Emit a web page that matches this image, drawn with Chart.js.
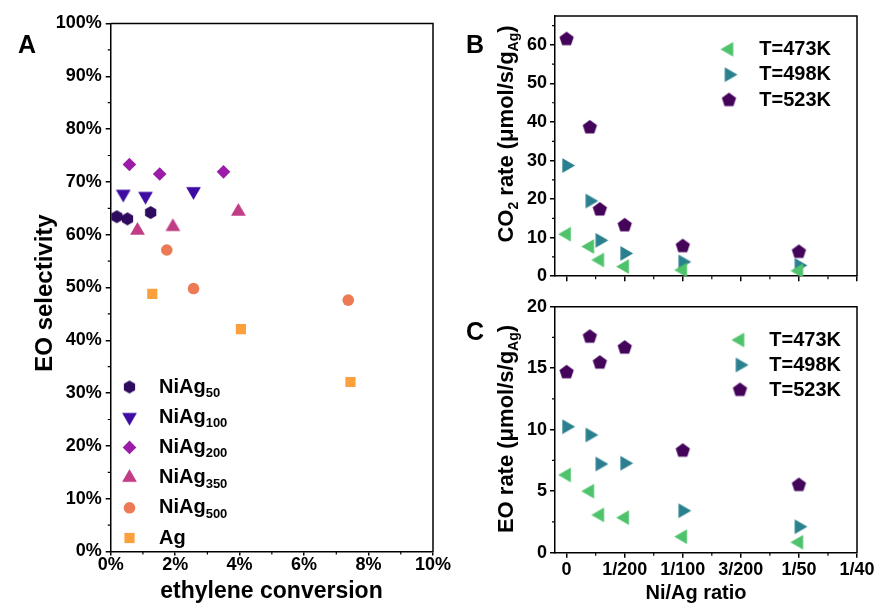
<!DOCTYPE html>
<html>
<head>
<meta charset="utf-8">
<script src="https://cdn.jsdelivr.net/npm/chart.js@4.4.0/dist/chart.umd.min.js"></script>
<style>
  html, body { margin: 0; padding: 0; background: #fff; }
  body { width: 878px; height: 607px; position: relative; overflow: hidden; }
  .panel { position: absolute; }
</style>
</head>
<body>
<div class="panel" style="left:0;top:0;width:460px;height:607px"><canvas id="chartA"></canvas></div>
<div class="panel" style="left:460px;top:0;width:418px;height:290px"><canvas id="chartB"></canvas></div>
<div class="panel" style="left:460px;top:290px;width:418px;height:317px"><canvas id="chartC"></canvas></div>
<script>
// ---- panel A: selectivity vs conversion (%)
const catalystNames = ['50', '100', '200', '350', '500', ''];
const convNiAg50 = [0.19, 0.52, 1.24];
const selNiAg50 = [63.4, 63.0, 64.2];
const convNiAg100 = [0.39, 1.08, 2.57];
const selNiAg100 = [67.7, 67.3, 68.2];
const convNiAg200 = [0.58, 1.52, 3.50];
const selNiAg200 = [73.3, 71.5, 71.9];
const convNiAg350 = [0.83, 1.93, 3.96];
const selNiAg350 = [60.8, 61.5, 64.4];
const convNiAg500 = [1.74, 2.57, 7.37];
const selNiAg500 = [57.1, 49.8, 47.6];
const convAg = [1.29, 4.04, 7.44];
const selAg = [48.8, 42.1, 32.1];
const convTicks = [0, 2, 4, 6, 8, 10];
const selTicks = [0, 10, 20, 30, 40, 50, 60, 70, 80, 90, 100];

// ---- panels B and C: rates vs Ni/Ag ratio
const ratioValues = [0, 0.002, 0.00286, 0.005, 0.01, 0.02];
const co2Rate473 = [10.9, 7.7, 4.2, 2.5, 1.6, 1.4];
const co2Rate498 = [28.7, 19.5, 9.3, 5.9, 3.7, 2.8];
const co2Rate523 = [61.5, 38.6, 17.3, 13.2, 7.8, 6.3];
const eoRate473 = [6.32, 5.0, 3.07, 2.85, 1.30, 0.85];
const eoRate498 = [10.24, 9.57, 7.21, 7.27, 3.41, 2.11];
const eoRate523 = [14.67, 17.56, 15.45, 16.67, 8.29, 5.5];
const tempLabels = ['T=473K', 'T=498K', 'T=523K'];
const ratioTicks = [0, 0.005, 0.01, 0.015, 0.02, 0.025];
const ratioTickLabels = ['0', '1/200', '1/100', '3/200', '1/50', '1/40'];
const co2Ticks = [0, 10, 20, 30, 40, 50, 60];
const eoTicks = [0, 5, 10, 15, 20];

const FONT = "'Liberation Sans', Arial, sans-serif";
const font = (size) => 'bold ' + size + 'px ' + FONT;

// polygon markers (triangle / pentagon / hexagon) drawn into small canvases
function polyMarker(sides, r, color) {
  const c = document.createElement('canvas');
  const s = Math.ceil(2 * r + 2);
  c.width = c.height = s;
  const g = c.getContext('2d');
  g.fillStyle = color;
  g.beginPath();
  for (let i = 0; i < sides; i++) {
    const a = -Math.PI / 2 + i * 2 * Math.PI / sides;
    const px = s / 2 + r * Math.cos(a), py = s / 2 + r * Math.sin(a);
    if (i) g.lineTo(px, py); else g.moveTo(px, py);
  }
  g.closePath();
  g.fill();
  return c;
}

const stylesA = [
  { color: '#2e0b5e', pointStyle: polyMarker(6, 6.5, '#2e0b5e'), radius: 6, rotation: 0 },
  { color: '#3f0ca3', pointStyle: polyMarker(3, 8.5, '#3f0ca3'), radius: 7, rotation: 180 },
  { color: '#9b1ca8', pointStyle: 'rectRot', radius: 6.8, rotation: 0 },
  { color: '#c03d85', pointStyle: polyMarker(3, 8.5, '#c03d85'), radius: 7, rotation: 0 },
  { color: '#ec7a55', pointStyle: 'circle', radius: 5.8, rotation: 0 },
  { color: '#fba03c', pointStyle: 'rect', radius: 7.2, rotation: 0 }
];
const stylesT = [
  { color: '#4ec36b', pointStyle: polyMarker(3, 8.5, '#4ec36b'), radius: 7, rotation: -90 },
  { color: '#2a808e', pointStyle: polyMarker(3, 8.5, '#2a808e'), radius: 7, rotation: 90 },
  { color: '#44045a', pointStyle: polyMarker(5, 7.5, '#44045a'), radius: 7, rotation: 0 }
];

function makeSet(label, xs, ys, st) {
  return {
    label: label,
    data: xs.map((x, i) => ({ x: x, y: ys[i] })),
    pointStyle: st.pointStyle,
    pointRadius: st.radius,
    pointHoverRadius: st.radius,
    rotation: st.rotation,
    backgroundColor: st.color,
    borderColor: st.color,
    pointBorderWidth: 0,
    showLine: false
  };
}

// rich text with subscripts: parts = [[text, isSub], ...]
function drawRich(ctx, parts, x, y, size, align) {
  const sub = Math.round(size * 0.65);
  let w = 0;
  parts.forEach(p => { ctx.font = font(p[1] ? sub : size); w += ctx.measureText(p[0]).width; });
  let cx = align === 'center' ? x - w / 2 : x;
  ctx.textAlign = 'left';
  ctx.textBaseline = 'middle';
  ctx.fillStyle = '#000';
  parts.forEach(p => {
    ctx.font = font(p[1] ? sub : size);
    ctx.fillText(p[0], cx, p[1] ? y + size * 0.32 : y);
    cx += ctx.measureText(p[0]).width;
  });
}

// frame, minor ticks, titles, legend
function decorPlugin(cfg) {
  return {
    id: 'decor',
    afterDraw(chart) {
      const ctx = chart.ctx, a = chart.chartArea;
      ctx.save();
      ctx.strokeStyle = '#000';
      ctx.lineWidth = 1.5;
      ctx.beginPath();
      ctx.moveTo(a.left, a.top); ctx.lineTo(a.right, a.top); ctx.lineTo(a.right, a.bottom);
      ctx.stroke();
      ctx.lineWidth = 1.2;
      ['x', 'y'].forEach(id => {
        const s = chart.scales[id];
        const t = s.ticks.map(k => k.value);
        const step = (t[1] - t[0]) / 2;
        ctx.beginPath();
        for (let v = t[0] - step; v <= s.max + 1e-9; v += 2 * step) {
          if (v < s.min) continue;
          const p = s.getPixelForValue(v);
          if (id === 'x') { ctx.moveTo(p, a.bottom); ctx.lineTo(p, a.bottom + 3); }
          else { ctx.moveTo(a.left, p); ctx.lineTo(a.left - 3, p); }
        }
        ctx.stroke();
      });
      // panel letter
      ctx.fillStyle = '#000';
      ctx.font = font(25);
      ctx.textAlign = 'left';
      ctx.textBaseline = 'middle';
      ctx.fillText(cfg.letter[0], cfg.letter[1], cfg.letter[2]);
      // axis titles
      if (cfg.xTitle) drawRich(ctx, cfg.xTitle.parts, cfg.xTitle.x, cfg.xTitle.y, cfg.xTitle.size, 'center');
      if (cfg.yTitle) {
        ctx.save();
        ctx.translate(cfg.yTitle.x, cfg.yTitle.y);
        ctx.rotate(-Math.PI / 2);
        drawRich(ctx, cfg.yTitle.parts, 0, 0, cfg.yTitle.size, 'center');
        ctx.restore();
      }
      // legend
      const lg = cfg.legend;
      chart.data.datasets.forEach((ds, i) => {
        const y = lg.y + i * lg.dy;
        ctx.fillStyle = ds.backgroundColor;
        Chart.helpers.drawPoint(ctx, {
          pointStyle: ds.pointStyle, rotation: ds.rotation, radius: ds.pointRadius, borderWidth: 0
        }, lg.mx, y);
        drawRich(ctx, lg.parts[i], lg.tx, y, lg.size, 'left');
      });
      ctx.restore();
    }
  };
}

function linAxis(min, max, ticks, labels, fit, pad, tickLen) {
  return {
    type: 'linear',
    min: min,
    max: max,
    afterBuildTicks: s => { s.ticks = ticks.map(v => ({ value: v })); },
    afterFit: fit,
    ticks: {
      autoSkip: false,
      maxRotation: 0,
      padding: pad,
      color: '#000',
      font: { family: FONT, size: 18, weight: 'bold' },
      callback: (v, i) => labels[i]
    },
    grid: { display: true, drawOnChartArea: false, drawTicks: true, tickLength: tickLen, color: '#000', lineWidth: 1.5 },
    border: { display: true, color: '#000', width: 1.5 }
  };
}

function baseOptions(padding, xAxis, yAxis) {
  return {
    responsive: true,
    maintainAspectRatio: false,
    animation: false,
    devicePixelRatio: 1,
    layout: { padding: padding },
    plugins: { legend: { display: false }, tooltip: { enabled: false } },
    scales: { x: xAxis, y: yAxis }
  };
}

// Panel A
const dataA = [
  [convNiAg50, selNiAg50], [convNiAg100, selNiAg100], [convNiAg200, selNiAg200],
  [convNiAg350, selNiAg350], [convNiAg500, selNiAg500], [convAg, selAg]
];
new Chart(document.getElementById('chartA'), {
  type: 'scatter',
  data: { datasets: dataA.map((d, i) => makeSet('NiAg' + catalystNames[i], d[0], d[1], stylesA[i])) },
  options: baseOptions({ left: 0, top: 23.5, right: 27, bottom: 0 },
    linAxis(0, 10, convTicks, convTicks.map(v => v + '%'), s => { s.height = 55.5; }, -1, 4),
    linAxis(0, 100, selTicks, selTicks.map(v => v + '%'), s => { s.width = 110.7; }, 4, 5)),
  plugins: [decorPlugin({
    letter: ['A', 18, 46],
    xTitle: { parts: [['ethylene conversion', 0]], x: 271.5, y: 592, size: 23 },
    yTitle: { parts: [['EO selectivity', 0]], x: 45, y: 293, size: 24 },
    legend: {
      mx: 129.5, tx: 159, y: 387, dy: 30.2, size: 20,
      parts: catalystNames.map(n => n ? [['NiAg', 0], [n, 1]] : [['Ag', 0]])
    }
  })]
});

// Panel B
const co2Sets = [co2Rate473, co2Rate498, co2Rate523];
new Chart(document.getElementById('chartB'), {
  type: 'scatter',
  data: { datasets: co2Sets.map((d, i) => makeSet(tempLabels[i], ratioValues, d, stylesT[i])) },
  options: baseOptions({ left: 0, top: 16, right: 21, bottom: 0 },
    linAxis(-0.001, 0.025, ratioTicks, ratioTicks.map(() => ''), s => { s.height = 13; }, 0, 5),
    linAxis(0, 67.5, co2Ticks, co2Ticks.map(String), s => { s.width = 95; }, 3, 5)),
  plugins: [decorPlugin({
    letter: ['B', 6, 46],
    yTitle: { parts: [['CO', 0], ['2', 1], [' rate (μmol/s/g', 0], ['Ag', 1], [')', 0]], x: 47, y: 134, size: 22 },
    legend: { mx: 269, tx: 299.3, y: 49.3, dy: 25.4, size: 20, parts: tempLabels.map(t => [[t, 0]]) }
  })]
});

// Panel C
const eoSets = [eoRate473, eoRate498, eoRate523];
new Chart(document.getElementById('chartC'), {
  type: 'scatter',
  data: { datasets: eoSets.map((d, i) => makeSet(tempLabels[i], ratioValues, d, stylesT[i])) },
  options: baseOptions({ left: 0, top: 16.7, right: 21, bottom: 0 },
    linAxis(-0.001, 0.025, ratioTicks, ratioTickLabels, s => { s.height = 54.3; }, 2, 5),
    linAxis(0, 20, eoTicks, eoTicks.map(String), s => { s.width = 95; }, 3, 5)),
  plugins: [decorPlugin({
    letter: ['C', 6, 43],
    xTitle: { parts: [['Ni/Ag ratio', 0]], x: 236, y: 303, size: 20 },
    yTitle: { parts: [['EO rate (μmol/s/g', 0], ['Ag', 1], [')', 0]], x: 47, y: 139, size: 22 },
    legend: { mx: 280, tx: 309.3, y: 50, dy: 25, size: 20, parts: tempLabels.map(t => [[t, 0]]) }
  })]
});
</script>
</body>
</html>
